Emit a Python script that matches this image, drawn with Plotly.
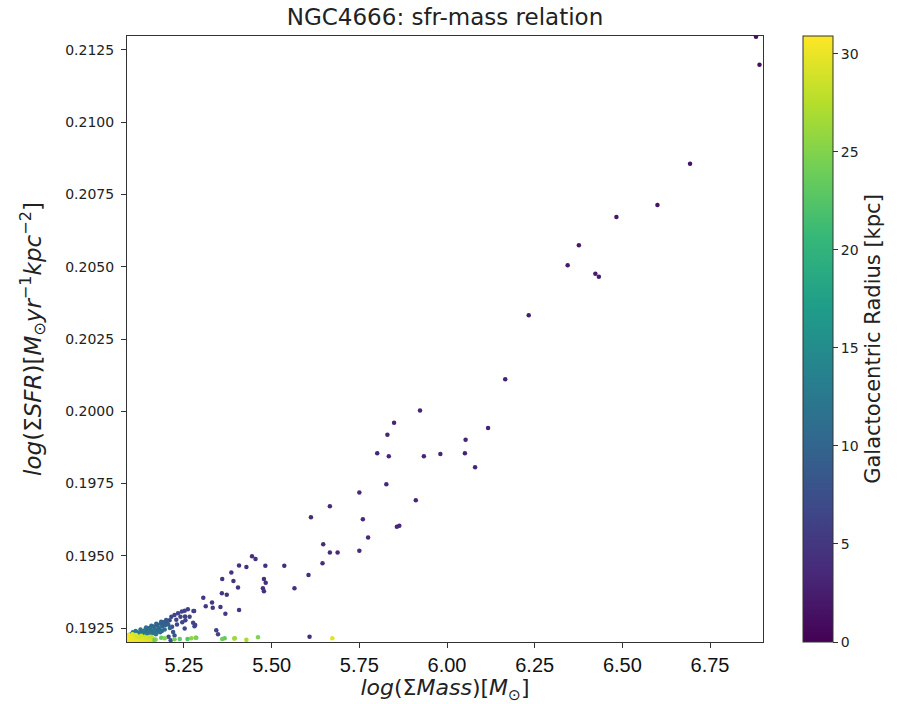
import plotly.graph_objects as go

# ---- data (log mass, log SFR, radius kpc) ----
outer_mass = [6.881, 6.891, 6.693, 6.600, 6.483, 6.376, 6.344, 6.423, 6.433, 6.233,
              6.166, 5.923, 5.849, 5.830, 6.117, 6.053, 5.801, 5.834, 5.934, 5.981,
              6.051, 6.080, 5.827, 5.750, 5.911, 5.666, 5.612, 5.760, 5.864, 5.857,
              5.775, 5.647, 5.750, 5.666, 5.688, 5.645]
outer_sfr = [0.21296, 0.21199, 0.20856, 0.20714, 0.20672, 0.20574, 0.20505, 0.20476, 0.20465, 0.20332,
             0.20111, 0.20003, 0.19960, 0.19919, 0.19942, 0.19901, 0.19855, 0.19844, 0.19844, 0.19852,
             0.19855, 0.19806, 0.19747, 0.19719, 0.19692, 0.19671, 0.19633, 0.19626, 0.19604, 0.19600,
             0.19563, 0.19540, 0.19517, 0.19511, 0.19511, 0.19474]
outer_radius = [1.0, 1.2, 1.5, 1.8, 2.0, 2.2, 2.3, 2.2, 2.3, 2.5,
                2.8, 3.0, 3.1, 3.2, 3.0, 3.1, 3.3, 3.2, 3.1, 3.1,
                3.0, 3.1, 3.4, 3.5, 3.3, 3.6, 3.7, 3.5, 3.4, 3.4,
                3.6, 3.8, 3.6, 3.8, 3.7, 3.8]

mid_mass = [5.444, 5.454, 5.536, 5.407, 5.428, 5.482, 5.385, 5.359, 5.391, 5.478,
            5.483, 5.475, 5.478, 5.404, 5.605, 5.565, 5.358, 5.372, 5.305, 5.312,
            5.330, 5.332, 5.354, 5.368, 5.407, 5.277, 5.253, 5.282, 5.608, 5.342,
            5.347]
mid_sfr = [0.19498, 0.19489, 0.19465, 0.19466, 0.19461, 0.19465, 0.19442, 0.19420, 0.19413, 0.19420,
           0.19407, 0.19388, 0.19377, 0.19390, 0.19433, 0.19388, 0.19370, 0.19365, 0.19355, 0.19325,
           0.19338, 0.19320, 0.19323, 0.19299, 0.19312, 0.19309, 0.19290, 0.19260, 0.19220, 0.19242,
           0.19228]
mid_radius = [4.2, 4.2, 4.0, 4.3, 4.3, 4.1, 4.5, 4.6, 4.5, 4.3,
              4.3, 4.4, 4.4, 4.6, 4.0, 4.2, 4.8, 4.8, 5.0, 5.2,
              5.1, 5.2, 5.1, 5.3, 5.0, 5.6, 5.8, 5.8, 4.0, 6.0,
              6.2]

inner_mass = [5.214, 5.223, 5.233, 5.244, 5.252, 5.261, 5.279, 5.266, 5.254, 5.276,
              5.280, 5.216, 5.219, 5.223, 5.252, 5.209, 5.200, 5.190, 5.228, 5.240,
              5.206, 5.212, 5.230, 5.245]
inner_sfr = [0.19289, 0.19295, 0.19301, 0.19307, 0.19310, 0.19315, 0.19309, 0.19289, 0.19277, 0.19268,
             0.19256, 0.19254, 0.19236, 0.19224, 0.19248, 0.19277, 0.19268, 0.19265, 0.19279, 0.19289,
             0.19220, 0.19208, 0.19262, 0.19270]
inner_radius = [6.5, 6.4, 6.3, 6.2, 6.1, 6.0, 6.0, 6.3, 6.5, 6.4,
                6.6, 7.5, 7.8, 8.0, 6.8, 7.0, 7.3, 7.6, 6.8, 6.6,
                7.5, 7.8, 6.9, 6.7]

disk_mass = [5.100, 5.108, 5.115, 5.122, 5.128, 5.135, 5.140, 5.146, 5.152, 5.158,
             5.163, 5.168, 5.173, 5.178, 5.183, 5.188, 5.192, 5.197, 5.202, 5.132,
             5.145, 5.160, 5.175, 5.187, 5.195, 5.205, 5.210, 5.118, 5.155, 5.170,
             5.138, 5.150, 5.180, 5.093, 5.165, 5.104, 5.112, 5.126, 5.142, 5.157,
             5.171, 5.185, 5.199, 5.120, 5.136, 5.150, 5.166, 5.182]
disk_sfr = [0.19228, 0.19232, 0.19236, 0.19230, 0.19240, 0.19234, 0.19245, 0.19238, 0.19250, 0.19242,
            0.19255, 0.19246, 0.19260, 0.19250, 0.19265, 0.19255, 0.19270, 0.19260, 0.19272, 0.19228,
            0.19230, 0.19232, 0.19238, 0.19240, 0.19245, 0.19262, 0.19250, 0.19226, 0.19226, 0.19228,
            0.19226, 0.19244, 0.19244, 0.19226, 0.19236, 0.19235, 0.19240, 0.19245, 0.19252, 0.19258,
            0.19265, 0.19272, 0.19278, 0.19233, 0.19240, 0.19236, 0.19240, 0.19235]
disk_radius = [12.5, 12.0, 11.8, 12.2, 11.5, 11.8, 11.0, 11.4, 10.5, 11.0,
               10.2, 10.8, 9.8, 10.5, 9.5, 10.0, 9.2, 9.6, 9.0, 12.5,
               12.2, 12.0, 11.5, 11.2, 10.8, 9.5, 10.2, 13.0, 12.6, 12.4,
               12.8, 11.0, 10.4, 13.0, 11.8, 12.6, 12.2, 11.6, 11.2, 10.6,
               10.0, 9.4, 8.8, 12.4, 12.0, 12.2, 11.6, 11.4]

edge_mass = [5.088, 5.090, 5.095, 5.100, 5.105, 5.110, 5.115, 5.120, 5.125, 5.130,
             5.135, 5.140, 5.145, 5.150, 5.155, 5.160, 5.089, 5.097, 5.108, 5.118,
             5.128, 5.138, 5.148, 5.165, 5.170, 5.092, 5.103, 5.113, 5.088, 5.133,
             5.143, 5.153, 5.158, 5.094, 5.101, 5.111, 5.122, 5.131, 5.141, 5.152,
             5.163]
edge_sfr = [0.19205, 0.19212, 0.19208, 0.19215, 0.19205, 0.19210, 0.19218, 0.19207, 0.19213, 0.19205,
            0.19216, 0.19209, 0.19204, 0.19212, 0.19207, 0.19214, 0.19220, 0.19222, 0.19224, 0.19221,
            0.19223, 0.19220, 0.19218, 0.19206, 0.19210, 0.19226, 0.19228, 0.19226, 0.19214, 0.19211,
            0.19215, 0.19220, 0.19219, 0.19203, 0.19203, 0.19203, 0.19203, 0.19203, 0.19203, 0.19203,
            0.19210]
edge_radius = [30.5, 30.2, 29.8, 30.0, 29.5, 29.8, 29.2, 29.6, 29.0, 29.4,
               28.8, 29.2, 29.6, 28.6, 29.0, 28.4, 30.6, 30.0, 29.4, 29.0,
               28.8, 28.6, 28.2, 28.0, 27.6, 30.4, 29.8, 29.2, 30.9, 29.3,
               28.9, 28.5, 28.3, 30.6, 30.4, 30.2, 30.0, 29.8, 29.6, 29.4,
               28.6]

tail_mass = [5.166, 5.185, 5.195, 5.223, 5.238, 5.271, 5.285, 5.366, 5.395, 5.428,
             5.461, 5.673, 5.260, 5.283, 5.359, 5.393]
tail_sfr = [0.19209, 0.19216, 0.19215, 0.19211, 0.19212, 0.19215, 0.19216, 0.19215, 0.19215, 0.19209,
            0.19218, 0.19215, 0.19212, 0.19216, 0.19212, 0.19214]
tail_radius = [24.0, 23.5, 25.0, 24.5, 23.0, 25.5, 24.0, 23.5, 26.0, 27.0,
               25.0, 29.5, 22.5, 24.8, 23.8, 26.5]

x_ticks = [5.25, 5.50, 5.75, 6.00, 6.25, 6.50, 6.75]
y_ticks = [0.1925, 0.1950, 0.1975, 0.2000, 0.2025, 0.2050, 0.2075, 0.2100, 0.2125]
cbar_ticks = [0, 5, 10, 15, 20, 25, 30]

mass = outer_mass + mid_mass + inner_mass + disk_mass + edge_mass + tail_mass
sfr = outer_sfr + mid_sfr + inner_sfr + disk_sfr + edge_sfr + tail_sfr
radius = outer_radius + mid_radius + inner_radius + disk_radius + edge_radius + tail_radius

L, R, T, B = 127, 139, 36, 62
W, H = 902, 704
plot_w = W - L - R

fig = go.Figure(go.Scatter(
    x=mass, y=sfr, mode="markers",
    marker=dict(
        size=4.5, color=radius, colorscale="Viridis", cmin=0, cmax=30.9,
        line=dict(width=0),
        colorbar=dict(
            x=(803 - L) / plot_w, xanchor="left", y=0.5, yanchor="middle",
            xpad=0, ypad=0,
            len=1, lenmode="fraction", thickness=30, thicknessmode="pixels",
            outlinewidth=1, outlinecolor="#333",
            tickvals=cbar_ticks, ticks="outside", ticklen=5, tickcolor="#333",
            tickfont=dict(family="DejaVu Sans", size=14, color="#222"),
            title=dict(text="Galactocentric Radius [kpc]", side="right",
                       font=dict(family="DejaVu Sans", size=21, color="#222")),
        ),
    ),
    showlegend=False,
))

axis_common = dict(
    showgrid=False, zeroline=False, showline=True, linecolor="#333", linewidth=1,
    mirror=True, ticks="outside", ticklen=5, tickcolor="#333",
)

fig.update_xaxes(
    range=[5.0875, 6.901], tickvals=x_ticks, tickformat=".2f",
    tickfont=dict(family="Liberation Sans", size=20, color="#111"),
    title=dict(text="<i>log</i>(Σ<i>Mass</i>)[<i>M</i><sub>⊙</sub>]",
               font=dict(family="DejaVu Sans", size=22, color="#222"), standoff=3),
    **axis_common,
)
fig.update_yaxes(
    range=[0.192016, 0.212984], tickvals=y_ticks, tickformat=".4f",
    tickfont=dict(family="DejaVu Sans", size=14, color="#222"),
    ticklabelstandoff=4,
    title=dict(text="<i>log</i>(Σ<i>SFR</i>)[<i>M</i><sub>⊙</sub><i>yr</i><sup>−1</sup><i>kpc</i><sup>−2</sup>]",
               font=dict(family="DejaVu Sans", size=23, color="#222"), standoff=17),
    **axis_common,
)

fig.update_layout(
    width=W, height=H,
    margin=dict(l=L, r=R, t=T, b=B, autoexpand=False),
    paper_bgcolor="white", plot_bgcolor="white",
    title=dict(text="NGC4666: sfr-mass relation", x=0.5, xref="paper",
               y=1 - 17 / H, yanchor="middle",
               font=dict(family="DejaVu Sans", size=23, color="#222")),
)

fig.write_html("out.html",
               config={"displayModeBar": False},
               post_script="document.body.style.margin='0px';document.body.style.overflow='hidden';")
